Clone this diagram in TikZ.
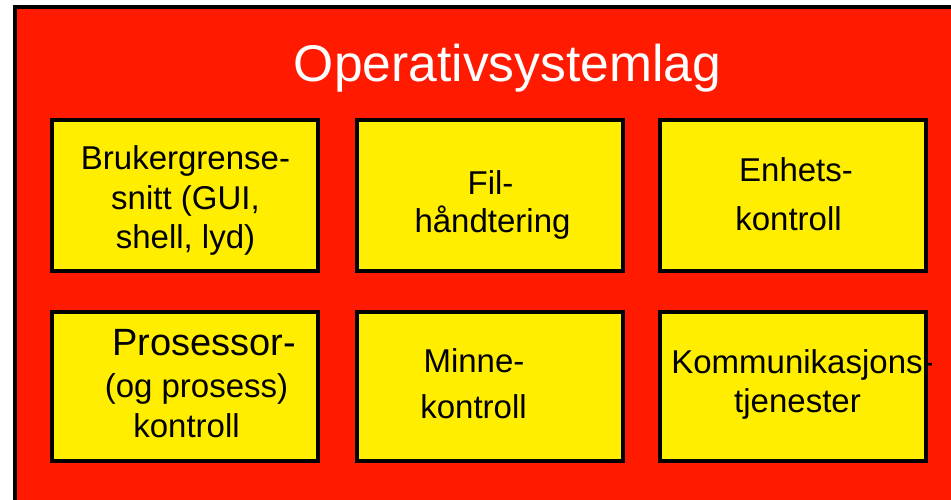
\documentclass[tikz,border=0pt]{standalone}
\usepackage{fontspec}
\setmainfont{Liberation Sans}
\definecolor{layerred}{RGB}{255,26,0}
\definecolor{boxyellow}{RGB}{255,238,0}
\tikzset{
  module/.style={draw=black, line width=4pt, fill=boxyellow},
  txt/.style={anchor=base, inner sep=0pt, font=\fontsize{33}{39}\selectfont, text=black},
  bigtxt/.style={txt, font=\fontsize{38}{45}\selectfont},
  titletxt/.style={anchor=base, inner sep=0pt, font=\fontsize{51.6}{60}\selectfont, text=white}
}
\begin{document}
\begin{tikzpicture}[x=1pt,y=1pt]
\useasboundingbox (0,0) rectangle (951,-500);
\clip (0,0) rectangle (951,-500);
% operating system layer
\fill[white] (0,0) rectangle (951,-500);
\draw[line width=4pt, fill=layerred] (15,-7) rectangle (980,-530);
\node[titletxt] (title) at (507.5,-82) {Operativsystemlag};
% modules, upper row
\draw[module] (52,-120) rectangle (318,-271);
\draw[module] (357,-120) rectangle (623,-271);
\draw[module] (660,-120) rectangle (926,-271);
% modules, lower row
\draw[module] (52,-312) rectangle (318,-461);
\draw[module] (357,-312) rectangle (623,-461);
\draw[module] (660,-312) rectangle (926,-461);
% labels
\node[txt] (ui1) at (185.5,-170) {Brukergrense-};
\node[txt] (ui2) at (185.5,-210) {snitt (GUI,};
\node[txt] (ui3) at (185.5,-248) {shell, lyd)};
\node[txt] (fs1) at (490.5,-195) {Fil-};
\node[txt] (fs2) at (492.5,-233) {håndtering};
\node[txt] (dev1) at (796,-182) {Enhets-};
\node[txt] (dev2) at (788.5,-230) {kontroll};
\node[bigtxt] (cpu1) at (204,-355) {Prosessor-};
\node[txt] (cpu2) at (196.5,-397) {(og prosess)};
\node[txt] (cpu3) at (186.5,-437) {kontroll};
\node[txt] (mem1) at (474,-372) {Minne-};
\node[txt] (mem2) at (473.5,-418) {kontroll};
\node[txt] (com1) at (802.5,-373) {Kommunikasjons-};
\node[txt] (com2) at (797.5,-412) {tjenester};
\end{tikzpicture}
\end{document}
